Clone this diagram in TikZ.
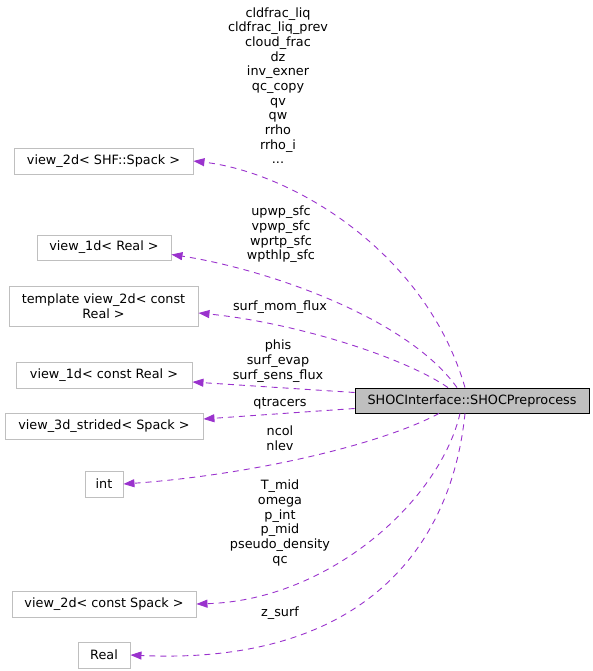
\documentclass[tikz,border=0pt]{standalone}
\usepackage{fontspec}
\setmainfont{DejaVu Sans}
\usepackage{tikz}
\usetikzlibrary{arrows.meta}
\definecolor{dxpurple}{RGB}{154,50,205}
\definecolor{dxgray}{RGB}{191,191,191}
\tikzstyle{arrow} = [dxpurple, line width=0.9pt, dash pattern=on 6pt off 5pt, -{Triangle[length=11pt,width=8pt]}]
\tikzstyle{classbox} = [rectangle, draw=dxgray, line width=0.9pt, inner sep=0pt, minimum height=26pt, align=center, font=\fontsize{12.8}{14.67}\selectfont]
\tikzstyle{mainbox} = [classbox, draw=black, fill=dxgray, minimum height=25pt]
\tikzstyle{edgelabel} = [inner sep=0pt, align=center, font=\fontsize{12.8}{14.67}\selectfont]

\begin{document}
\begin{tikzpicture}[x=1pt, y=-1pt]
\useasboundingbox (0,0) rectangle (593,671);

% Used classes
\node (spack2d) [classbox, minimum width=179pt] at (103.5,161) {view\_2d< SHF::Spack >};
\node (real1d) [classbox, minimum width=134pt, minimum height=25pt] at (104,247.5) {view\_1d< Real >};
\node (tmpl2d) [classbox, minimum width=189pt, minimum height=40pt] at (103.5,306) {template view\_2d< const\\Real >};
\node (creal1d) [classbox, minimum width=176pt] at (104,375) {view\_1d< const Real >};
\node (strided3d) [classbox, minimum width=198pt] at (104,426) {view\_3d\_strided< Spack >};
\node (int) [classbox, minimum width=38pt] at (104,484) {int};
\node (cspack2d) [classbox, minimum width=184pt] at (104,604) {view\_2d< const Spack >};
\node (real) [classbox, minimum width=52pt] at (104,655) {Real};

% The documented class
\node (main) [mainbox, minimum width=234pt] at (472,400.5) {SHOCInterface::SHOCPreprocess};

% Member names
\node (lblspack) [edgelabel] at (278,85.5) {cldfrac\_liq\\cldfrac\_liq\_prev\\cloud\_frac\\dz\\inv\_exner\\qc\_copy\\qv\\qw\\rrho\\rrho\_i\\...};
\node (lblreal1d) [edgelabel] at (281,234.5) {upwp\_sfc\\vpwp\_sfc\\wprtp\_sfc\\wpthlp\_sfc};
\node (lbltmpl) [edgelabel] at (280,307) {surf\_mom\_flux};
\node (lblcreal) [edgelabel] at (278,361) {phis\\surf\_evap\\surf\_sens\_flux};
\node (lblstrided) [edgelabel] at (280,403) {qtracers};
\node (lblint) [edgelabel] at (280,438) {ncol\\nlev};
\node (lblcspack) [edgelabel] at (280,523) {T\_mid\\omega\\p\_int\\p\_mid\\pseudo\_density\\qc};
\node (lblreal) [edgelabel] at (280,613) {z\_surf};

% Usage edges
\draw[arrow] ([xshift=-7pt]main.north) .. controls (425,250) and (290,172) .. (spack2d.east);
\draw[arrow] ([xshift=-15pt]main.north) .. controls (405,315) and (260,268) .. ([yshift=-7pt]real1d.east);
\draw[arrow] ([xshift=-24pt]main.north) .. controls (400,355) and (290,322) .. ([yshift=-7pt]tmpl2d.east);
\draw[arrow] ([yshift=8pt]main.west) -- ([yshift=-7pt]creal1d.east);
\draw[arrow] ([yshift=-8pt]main.west) -- ([yshift=7pt]strided3d.east);
\draw[arrow] ([xshift=-33pt]main.south) .. controls (380,445) and (250,475) .. (int.east);
\draw[arrow] ([xshift=-12pt]main.south) .. controls (440,500) and (330,600) .. (cspack2d.east);
\draw[arrow] ([xshift=-7pt]main.south) .. controls (450,560) and (350,665) .. (real.east);
\end{tikzpicture}
\end{document}
